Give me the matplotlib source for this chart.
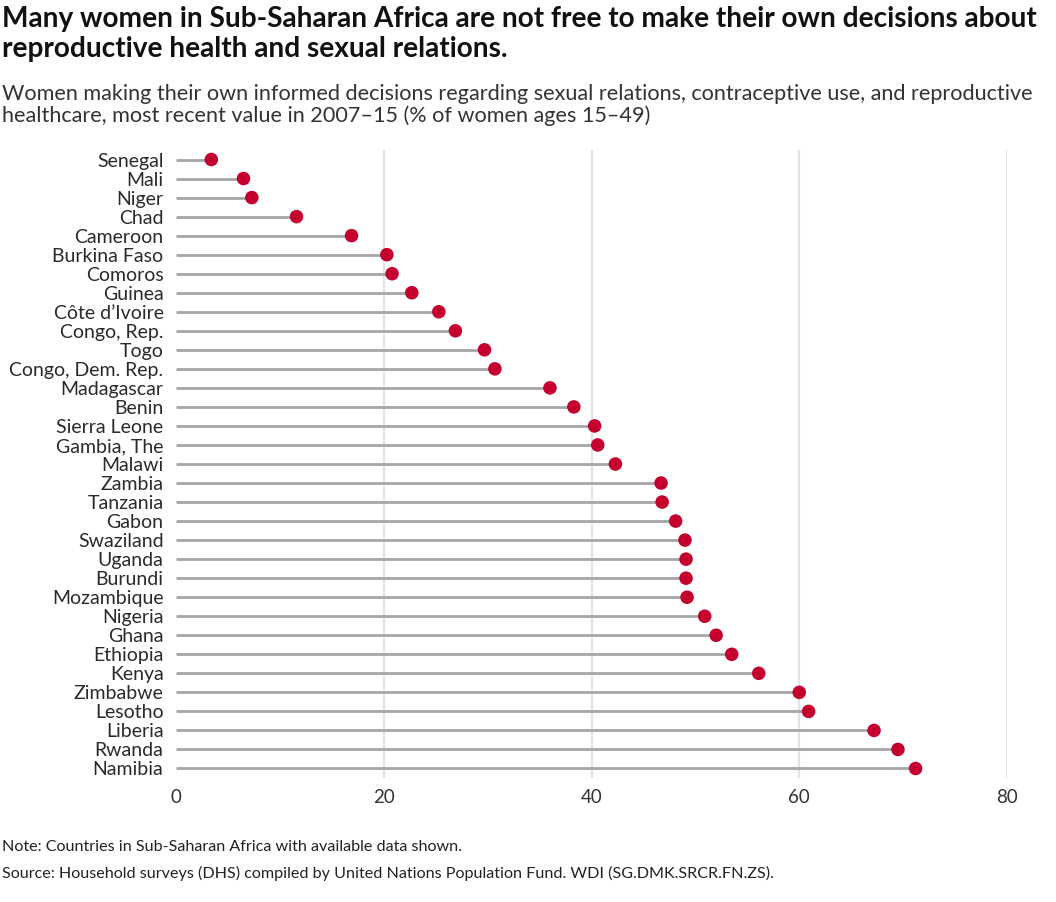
import numpy as np
import matplotlib.pyplot as plt

plt.rcParams['font.family'] = ['Lato', 'DejaVu Sans']

countries = ["Senegal", "Mali", "Niger", "Chad", "Cameroon", "Burkina Faso", "Comoros",
             "Guinea", "Côte d\u2019Ivoire", "Congo, Rep.", "Togo", "Congo, Dem. Rep.",
             "Madagascar", "Benin", "Sierra Leone", "Gambia, The", "Malawi", "Zambia",
             "Tanzania", "Gabon", "Swaziland", "Uganda", "Burundi", "Mozambique",
             "Nigeria", "Ghana", "Ethiopia", "Kenya", "Zimbabwe", "Lesotho", "Liberia",
             "Rwanda", "Namibia"]
values = [3.4, 6.5, 7.3, 11.6, 16.9, 20.3, 20.8, 22.7, 25.3, 26.9, 29.7, 30.7,
          36.0, 38.3, 40.3, 40.6, 42.3, 46.7, 46.8, 48.1, 49.0, 49.1, 49.1, 49.2,
          50.9, 52.0, 53.5, 56.1, 60.0, 60.9, 67.2, 69.5, 71.2]
xticks = [0, 20, 40, 60, 80]

fig = plt.figure(figsize=(10.56, 9.02), dpi=100)
ax = fig.add_axes([176/1056, 1 - 778/902, (1007 - 176)/1056, (778 - 150)/902])

y = np.arange(len(countries))
ax.hlines(y, 0, values, color='#a6a6a6', lw=2, zorder=2)
ax.scatter(values, y, s=95, color='#c4002f', zorder=3, edgecolors='none')

ax.set_xlim(0, 80)
ax.set_ylim(len(countries) - 0.5, -0.5)
ax.set_yticks(y)
ax.set_yticklabels(countries, fontsize=14, color='#2a2a2a')
ax.set_xticks(xticks)
ax.set_xticklabels([str(t) for t in xticks], fontsize=13.5, color='#333333')
ax.tick_params(length=0, pad=8)
ax.tick_params(axis='y', pad=9)
for t in xticks[1:]:
    ax.axvline(t, color='#e3e3e3', lw=1.5, zorder=1)
for s in ax.spines.values():
    s.set_visible(False)

fig.text(0.002, 1 - 34/902, "Many women in Sub-Saharan Africa are not free to make their own decisions about\nreproductive health and sexual relations.",
         fontsize=20.2, fontweight='bold', va='center', ha='left', linespacing=1.2, color='#111111')
fig.text(0.002, 1 - 105/902, "Women making their own informed decisions regarding sexual relations, contraceptive use, and reproductive\nhealthcare, most recent value in 2007\u201315 (% of women ages 15\u201349)",
         fontsize=15.6, va='center', ha='left', linespacing=1.1, color='#333333')
fig.text(0.002, 1 - 847/902, "Note: Countries in Sub-Saharan Africa with available data shown.",
         fontsize=11.6, va='center', color='#222222')
fig.text(0.002, 1 - 873/902, "Source: Household surveys (DHS) compiled by United Nations Population Fund. WDI (SG.DMK.SRCR.FN.ZS).",
         fontsize=11.6, va='center', color='#222222')

plt.savefig("out.png", dpi=100)
